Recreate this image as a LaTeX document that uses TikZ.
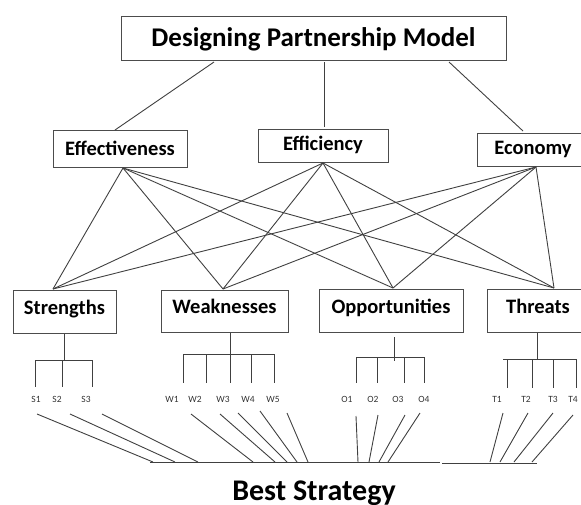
\documentclass[tikz,border=0pt]{standalone}
\usepackage{fontspec}
\setmainfont{Carlito}
\begin{document}
\begin{tikzpicture}[x=1pt,y=-1pt,
  box/.style={draw=black!70,line width=1pt,inner sep=0pt,text height=13.2pt,text depth=0pt,font=\bfseries\fontsize{20.5}{22}\selectfont,text=black},
  upbox/.style={box,text depth=8pt},
  downbox/.style={box,text height=9.2pt},
  ln/.style={draw=black!75,line width=0.9pt},
  lbl/.style={font=\fontsize{9.5}{10}\selectfont,text=black!80,inner sep=0pt}]
\useasboundingbox (0,0) rectangle (581,504);
% boxes
\node[box,minimum width=385pt,minimum height=44pt,text height=17.4pt,font=\bfseries\fontsize{27}{30}\selectfont] (top) at (313.5,38) {Designing Partnership Model};
\node[box,minimum width=134pt,minimum height=37pt] (eff) at (120,148.5) {Effectiveness};
\node[downbox,minimum width=130pt,minimum height=33pt] (efc) at (323,145.5) {Efficiency};
\node[downbox,minimum width=112pt,minimum height=33pt] (eco) at (533,149.5) {Economy};
\node[upbox,minimum width=103pt,minimum height=43pt] (str) at (64.5,311.5) {Strengths};
\node[upbox,minimum width=127pt,minimum height=42pt] (wea) at (224.5,311) {Weaknesses};
\node[upbox,minimum width=144pt,minimum height=43pt] (opp) at (391,310.5) {Opportunities};
\node[upbox,minimum width=102pt,minimum height=43pt] (thr) at (538,310.5) {Threats};
% top connectors
\coordinate (t1) at (214,62); \coordinate (t2) at (324,62); \coordinate (t3) at (449,62);
\coordinate (m1) at (115,130); \coordinate (m2) at (324,127); \coordinate (m3) at (523,131);
\draw[ln] (t1) -- (m1);
\draw[ln] (t2) -- (m2);
\draw[ln] (t3) -- (m3);
% cross connectors
\coordinate (effB) at (123,168);
\coordinate (efcB) at (323,163);
\coordinate (ecoB) at (536,167);
\coordinate (strT) at (53,289);
\coordinate (weaT) at (223,289);
\coordinate (oppT) at (393,288);
\coordinate (thrT) at (554,288);
\foreach \a in {effB,efcB,ecoB}{
  \foreach \b in {strT,weaT,oppT,thrT}{
    \draw[ln] (\a) -- (\b);
  }
}
% Strengths tree
\draw[ln] (str.south -| 64,0) -- (64,360);
\draw[ln] (35,360) -- (93,360);
\foreach \x in {35,62,92} \draw[ln] (\x,360) -- (\x,387);
% Weaknesses tree
\draw[ln] (wea.south -| 230,0) -- (230,354);
\draw[ln] (183,354) -- (274,354);
\foreach \x in {183,206,230,251,274} \draw[ln] (\x,354) -- (\x,383);
% Opportunities tree
\draw[ln] (394,337) -- (394,361);
\draw[ln] (356,357) -- (425,357);
\foreach \x in {356,377,404,424} \draw[ln] (\x,357) -- (\x,383);
% Threats tree
\draw[ln] (thr.south -| 537,0) -- (537,359);
\draw[ln] (503,359) -- (576,359);
\foreach \x in {507,532,553,576} \draw[ln] (\x,359) -- (\x,388);
% labels
\foreach \n/\x in {S1/36,S2/57,S3/86,W1/172,W2/195,W3/223,W4/248,W5/273,O1/347,O2/373,O3/398,O4/424,T1/497,T2/526,T3/553,T4/573}
  \node[lbl] (l\n) at (\x,399) {\n};
% lines to strategy
\foreach \n/\xa/\ya/\xb in {S1/37/414/153,S2/70/414/175,S3/102/414/198,W1/191/414/253,W2/220/414/275,W3/238/413/287,W4/260/411/297,W5/287/413/308,O1/356/416/358,O2/378/415/369,O3/405/415/379,O4/420/413/388,T1/503/413/490,T2/528/413/500,T3/553/413/514,T4/573/415/532}{
  \coordinate (a\n) at (\xa,\ya);
  \coordinate (b\n) at (\xb,462);
  \draw[ln] (a\n) -- (b\n);
}
\coordinate (h1) at (150,462); \coordinate (h2) at (440,462);
\coordinate (h3) at (442,463); \coordinate (h4) at (537,463);
\draw[ln] (h1) -- (h2);
\draw[ln] (h3) -- (h4);
\node[font=\bfseries\fontsize{30}{32}\selectfont,inner sep=0pt,text height=19.3pt,text depth=0pt] (best) at (314,490.5) {Best Strategy};
\end{tikzpicture}
\end{document}
